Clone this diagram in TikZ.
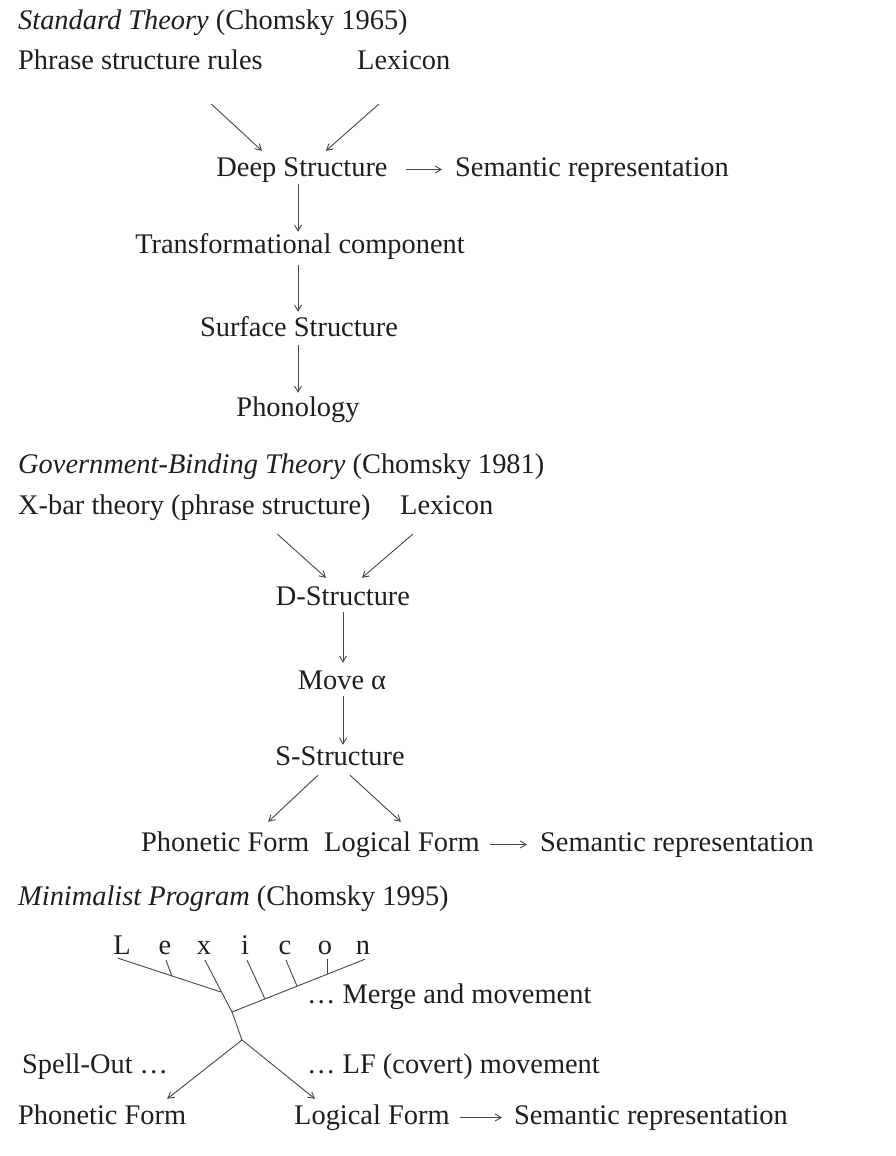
\documentclass[tikz,border=0pt]{standalone}
\usepackage{fontspec}
\setmainfont{Liberation Serif}
\usetikzlibrary{arrows.meta}
\begin{document}
\begin{tikzpicture}[x=1pt,y=-1pt,
  lbl/.style={inner sep=0pt, text height=20pt, text depth=7pt,
              font=\fontsize{28.4}{34}\selectfont, text=black!88},
  ltr/.style={lbl, text depth=0pt},
  arr/.style={draw=black!72, line width=0.9pt,
              -{Straight Barb[length=6pt,width=7pt,line width=0.9pt]}},
  ln/.style={draw=black!72, line width=0.9pt}]
\useasboundingbox[fill=white] (0,0) rectangle (895,1156);

% ---------- Standard Theory ----------
\node[lbl,anchor=base west] (t1) at (18,30) {\textit{Standard Theory} (Chomsky 1965)};
\node[lbl,anchor=base west] (psr) at (18,70) {Phrase structure rules};
\node[lbl,anchor=base west] (lexA) at (357,70) {Lexicon};
\node[lbl,anchor=base] (ds) at (302,176) {Deep Structure};
\node[lbl,anchor=base west] (semA) at (455,176) {Semantic representation};
\node[lbl,anchor=base] (tc) at (300,253) {Transformational component};
\node[lbl,anchor=base] (ss) at (299,336) {Surface Structure};
\node[lbl,anchor=base] (ph) at (298,416) {Phonology};

\draw[arr] ([xshift=71pt,yshift=-27pt]psr.south) -- ([xshift=-40pt,yshift=5pt]ds.north);
\draw[arr] ([xshift=-25pt,yshift=-27pt]lexA.south) -- ([xshift=24pt,yshift=5pt]ds.north);
\draw[arr] ([xshift=18pt]ds.east) -- ([xshift=-13pt]semA.west);
\draw[arr] ([xshift=-4pt,yshift=-1pt]ds.south) -- ([xshift=-2pt,yshift=1pt]tc.north);
\draw[arr] ([xshift=-2pt,yshift=-5pt]tc.south) -- ([xshift=-1pt,yshift=4pt]ss.north);
\draw[arr] ([xshift=-1pt,yshift=-2pt]ss.south) -- ([yshift=3pt]ph.north);

% ---------- Government-Binding Theory ----------
\node[lbl,anchor=base west] (t2) at (18,473) {\textit{Government-Binding Theory} (Chomsky 1981)};
\node[lbl,anchor=base west] (xb) at (18,514) {X-bar theory (phrase structure)};
\node[lbl,anchor=base west] (lexB) at (400,514) {Lexicon};
\node[lbl,anchor=base] (dst) at (343,605) {D-Structure};
\node[lbl,anchor=base] (mv) at (342,689) {Move α};
\node[lbl,anchor=base] (sst) at (340,765) {S-Structure};
\node[lbl,anchor=base west] (pfB) at (141,851) {Phonetic Form};
\node[lbl,anchor=base west] (lfB) at (324,851) {Logical Form};
\node[lbl,anchor=base west] (semB) at (540,851) {Semantic representation};

\draw[arr] ([xshift=83pt,yshift=-13pt]xb.south) -- ([xshift=-17pt,yshift=7pt]dst.north);
\draw[arr] ([xshift=-34pt,yshift=-13pt]lexB.south) -- ([xshift=19pt,yshift=7pt]dst.north);
\draw[arr] ([xshift=0pt]dst.south) -- ([xshift=1pt,yshift=6pt]mv.north);
\draw[arr] ([xshift=1pt]mv.south) -- ([xshift=3pt]sst.north);
\draw[arr] ([xshift=-22pt,yshift=-3pt]sst.south) -- ([xshift=43pt,yshift=9pt]pfB.north);
\draw[arr] ([xshift=10pt,yshift=-3pt]sst.south) -- ([xshift=-1pt,yshift=9pt]lfB.north);
\draw[arr] ([xshift=10pt]lfB.east) -- ([xshift=-13pt]semB.west);

% ---------- Minimalist Program ----------
\node[lbl,anchor=base west] (t3) at (18,905) {\textit{Minimalist Program} (Chomsky 1995)};
\node[ltr,anchor=base] (cL) at (122,954) {L};
\node[ltr,anchor=base] (ce) at (165,954) {e};
\node[ltr,anchor=base] (cx) at (204,954) {x};
\node[ltr,anchor=base] (ci) at (245,954) {i};
\node[ltr,anchor=base] (cc) at (285,954) {c};
\node[ltr,anchor=base] (co) at (325,954) {o};
\node[ltr,anchor=base] (cn) at (363,954) {n};
\node[lbl,anchor=base west] (mrg) at (307,1003) {\dots{} Merge and movement};
\node[lbl,anchor=base west] (spo) at (22,1073) {Spell-Out \dots};
\node[lbl,anchor=base west] (lfm) at (307,1073) {\dots{} LF (covert) movement};
\node[lbl,anchor=base west] (pfC) at (18,1124) {Phonetic Form};
\node[lbl,anchor=base west] (lfC) at (294,1124) {Logical Form};
\node[lbl,anchor=base west] (semC) at (514,1124) {Semantic representation};

% branching points of the derivation tree
\coordinate (jL) at (221,992);
\coordinate (jM) at (232,1012);
\coordinate (jS) at (242,1040);

\draw[ln] ([xshift=-4pt,yshift=-4pt]cL.south) -- (jL);
\draw[ln] ([xshift=1pt,yshift=-6pt]cx.south) -- (jM) -- (jS);
\draw[ln] (jM) -- ([xshift=2pt,yshift=-5pt]cn.south);
\draw[ln] ([xshift=1pt,yshift=-6pt]ce.south) -- (172,976.5);
\draw[ln] ([xshift=2pt,yshift=-6pt]ci.south) -- (265,999);
\draw[ln] ([xshift=1pt,yshift=-6pt]cc.south) -- (297,986);
\draw[ln] ([xshift=2pt,yshift=-5pt]co.south) -- (327,974);

\draw[arr] (jS) -- ([xshift=65pt,yshift=5pt]pfC.north);
\draw[arr] (jS) -- ([xshift=-57pt,yshift=5pt]lfC.north);
\draw[arr] ([xshift=10pt]lfC.east) -- ([xshift=-12pt]semC.west);
\end{tikzpicture}
\end{document}
